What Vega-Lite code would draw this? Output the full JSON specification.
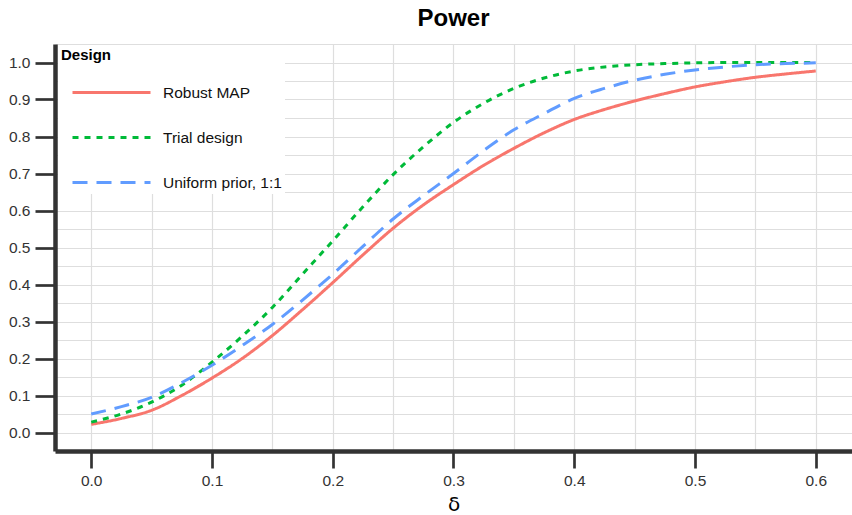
{
  "$schema": "https://vega.github.io/schema/vega-lite/v6.json",
  "width": 797,
  "height": 407,
  "autosize": {"type": "none"},
  "padding": {"left": 55, "top": 44, "right": 0, "bottom": 64},
  "background": "white",
  "config": {
    "font": "Liberation Sans",
    "view": {"stroke": null},
    "axis": {
      "gridColor": "#DEDEDE",
      "gridWidth": 1.2,
      "domainColor": "#333333",
      "domainWidth": 4.5,
      "tickColor": "#333333",
      "tickWidth": 2.7,
      "labelColor": "#333333",
      "labelFontSize": 15.5,
      "labelFont": "Liberation Sans"
    }
  },
  "title": {
    "text": "Power",
    "fontSize": 24,
    "fontWeight": "bold",
    "color": "black",
    "anchor": "middle",
    "frame": "group",
    "offset": 6,
    "font": "Liberation Sans"
  },
  "data": {
    "values": [
      {"delta": 0.0, "power": 0.022, "design": "Robust MAP"},
      {"delta": 0.025, "power": 0.038, "design": "Robust MAP"},
      {"delta": 0.05, "power": 0.06, "design": "Robust MAP"},
      {"delta": 0.075, "power": 0.1, "design": "Robust MAP"},
      {"delta": 0.1, "power": 0.147, "design": "Robust MAP"},
      {"delta": 0.125, "power": 0.2, "design": "Robust MAP"},
      {"delta": 0.15, "power": 0.262, "design": "Robust MAP"},
      {"delta": 0.175, "power": 0.332, "design": "Robust MAP"},
      {"delta": 0.2, "power": 0.405, "design": "Robust MAP"},
      {"delta": 0.225, "power": 0.48, "design": "Robust MAP"},
      {"delta": 0.25, "power": 0.552, "design": "Robust MAP"},
      {"delta": 0.275, "power": 0.615, "design": "Robust MAP"},
      {"delta": 0.3, "power": 0.67, "design": "Robust MAP"},
      {"delta": 0.325, "power": 0.722, "design": "Robust MAP"},
      {"delta": 0.35, "power": 0.768, "design": "Robust MAP"},
      {"delta": 0.375, "power": 0.81, "design": "Robust MAP"},
      {"delta": 0.4, "power": 0.846, "design": "Robust MAP"},
      {"delta": 0.425, "power": 0.873, "design": "Robust MAP"},
      {"delta": 0.45, "power": 0.896, "design": "Robust MAP"},
      {"delta": 0.475, "power": 0.916, "design": "Robust MAP"},
      {"delta": 0.5, "power": 0.934, "design": "Robust MAP"},
      {"delta": 0.525, "power": 0.948, "design": "Robust MAP"},
      {"delta": 0.55, "power": 0.96, "design": "Robust MAP"},
      {"delta": 0.575, "power": 0.969, "design": "Robust MAP"},
      {"delta": 0.6, "power": 0.977, "design": "Robust MAP"},
      {"delta": 0.0, "power": 0.028, "design": "Trial design"},
      {"delta": 0.025, "power": 0.05, "design": "Trial design"},
      {"delta": 0.05, "power": 0.082, "design": "Trial design"},
      {"delta": 0.075, "power": 0.128, "design": "Trial design"},
      {"delta": 0.1, "power": 0.19, "design": "Trial design"},
      {"delta": 0.125, "power": 0.26, "design": "Trial design"},
      {"delta": 0.15, "power": 0.338, "design": "Trial design"},
      {"delta": 0.175, "power": 0.428, "design": "Trial design"},
      {"delta": 0.2, "power": 0.518, "design": "Trial design"},
      {"delta": 0.225, "power": 0.61, "design": "Trial design"},
      {"delta": 0.25, "power": 0.697, "design": "Trial design"},
      {"delta": 0.275, "power": 0.772, "design": "Trial design"},
      {"delta": 0.3, "power": 0.838, "design": "Trial design"},
      {"delta": 0.325, "power": 0.89, "design": "Trial design"},
      {"delta": 0.35, "power": 0.93, "design": "Trial design"},
      {"delta": 0.375, "power": 0.958, "design": "Trial design"},
      {"delta": 0.4, "power": 0.977, "design": "Trial design"},
      {"delta": 0.425, "power": 0.988, "design": "Trial design"},
      {"delta": 0.45, "power": 0.994, "design": "Trial design"},
      {"delta": 0.475, "power": 0.997, "design": "Trial design"},
      {"delta": 0.5, "power": 0.999, "design": "Trial design"},
      {"delta": 0.525, "power": 1.0, "design": "Trial design"},
      {"delta": 0.55, "power": 1.0, "design": "Trial design"},
      {"delta": 0.575, "power": 1.0, "design": "Trial design"},
      {"delta": 0.6, "power": 1.0, "design": "Trial design"},
      {"delta": 0.0, "power": 0.05, "design": "Uniform prior, 1:1"},
      {"delta": 0.025, "power": 0.07, "design": "Uniform prior, 1:1"},
      {"delta": 0.05, "power": 0.095, "design": "Uniform prior, 1:1"},
      {"delta": 0.075, "power": 0.135, "design": "Uniform prior, 1:1"},
      {"delta": 0.1, "power": 0.182, "design": "Uniform prior, 1:1"},
      {"delta": 0.125, "power": 0.235, "design": "Uniform prior, 1:1"},
      {"delta": 0.15, "power": 0.292, "design": "Uniform prior, 1:1"},
      {"delta": 0.175, "power": 0.358, "design": "Uniform prior, 1:1"},
      {"delta": 0.2, "power": 0.428, "design": "Uniform prior, 1:1"},
      {"delta": 0.225, "power": 0.503, "design": "Uniform prior, 1:1"},
      {"delta": 0.25, "power": 0.577, "design": "Uniform prior, 1:1"},
      {"delta": 0.275, "power": 0.64, "design": "Uniform prior, 1:1"},
      {"delta": 0.3, "power": 0.7, "design": "Uniform prior, 1:1"},
      {"delta": 0.325, "power": 0.762, "design": "Uniform prior, 1:1"},
      {"delta": 0.35, "power": 0.818, "design": "Uniform prior, 1:1"},
      {"delta": 0.375, "power": 0.862, "design": "Uniform prior, 1:1"},
      {"delta": 0.4, "power": 0.903, "design": "Uniform prior, 1:1"},
      {"delta": 0.425, "power": 0.93, "design": "Uniform prior, 1:1"},
      {"delta": 0.45, "power": 0.952, "design": "Uniform prior, 1:1"},
      {"delta": 0.475, "power": 0.968, "design": "Uniform prior, 1:1"},
      {"delta": 0.5, "power": 0.98, "design": "Uniform prior, 1:1"},
      {"delta": 0.525, "power": 0.988, "design": "Uniform prior, 1:1"},
      {"delta": 0.55, "power": 0.994, "design": "Uniform prior, 1:1"},
      {"delta": 0.575, "power": 0.997, "design": "Uniform prior, 1:1"},
      {"delta": 0.6, "power": 0.999, "design": "Uniform prior, 1:1"}
    ]
  },
  "mark": {"type": "line", "strokeWidth": 3, "interpolate": "monotone", "strokeCap": "butt"},
  "encoding": {
    "x": {
      "field": "delta",
      "type": "quantitative",
      "scale": {"domain": [-0.03, 0.63], "nice": false, "zero": false},
      "axis": {
        "title": "δ",
        "titleFontSize": 20,
        "titleFontWeight": "normal",
        "titleColor": "black",
        "titleFont": "DejaVu Sans",
        "titlePadding": 6,
        "values": [0, 0.05, 0.1, 0.15, 0.2, 0.25, 0.3, 0.35, 0.4, 0.45, 0.5, 0.55, 0.6],
        "labelExpr": "round(datum.value*100) % 10 == 0 ? format(datum.value, '.1f') : ''",
        "tickOpacity": {"condition": {"test": "round(datum.value*100) % 10 == 0", "value": 1}, "value": 0},
        "tickSize": 17,
        "labelPadding": 5,
        "labelFlush": false,
        "labelOverlap": false
      }
    },
    "y": {
      "field": "power",
      "type": "quantitative",
      "scale": {"domain": [-0.05, 1.05], "nice": false, "zero": false},
      "axis": {
        "title": null,
        "values": [-0.05, 0, 0.05, 0.1, 0.15, 0.2, 0.25, 0.3, 0.35, 0.4, 0.45, 0.5, 0.55, 0.6, 0.65, 0.7, 0.75, 0.8, 0.85, 0.9, 0.95, 1.0, 1.05],
        "labelExpr": "round(datum.value*100) % 10 == 0 && datum.value >= 0 && datum.value <= 1 ? format(datum.value, '.1f') : ''",
        "tickOpacity": {"condition": {"test": "round(datum.value*100) % 10 == 0 && datum.value >= 0 && datum.value <= 1", "value": 1}, "value": 0},
        "tickSize": 20,
        "labelPadding": 5,
        "labelFlush": false,
        "labelOverlap": false
      }
    },
    "color": {
      "field": "design",
      "type": "nominal",
      "scale": {
        "domain": ["Robust MAP", "Trial design", "Uniform prior, 1:1"],
        "range": ["#F8766D", "#00BA38", "#619CFF"]
      },
      "legend": {
        "title": "Design",
        "orient": "none",
        "legendX": 3,
        "legendY": 1,
        "padding": 3,
        "fillColor": "white",
        "titleFontSize": 15,
        "titleFontWeight": "bold",
        "titleColor": "black",
        "titleFont": "Liberation Sans",
        "titlePadding": 15,
        "labelFontSize": 15.5,
        "labelColor": "#111111",
        "labelFont": "Liberation Sans",
        "symbolType": "M-3,0H3",
        "symbolSize": 676,
        "symbolStrokeWidth": 3,
        "symbolOffset": 36,
        "labelOffset": 37,
        "rowPadding": 22
      }
    },
    "strokeDash": {
      "field": "design",
      "type": "nominal",
      "scale": {
        "domain": ["Robust MAP", "Trial design", "Uniform prior, 1:1"],
        "range": [[1, 0], [6, 6], [15, 9]]
      },
      "legend": {
        "title": "Design"
      }
    }
  }
}
